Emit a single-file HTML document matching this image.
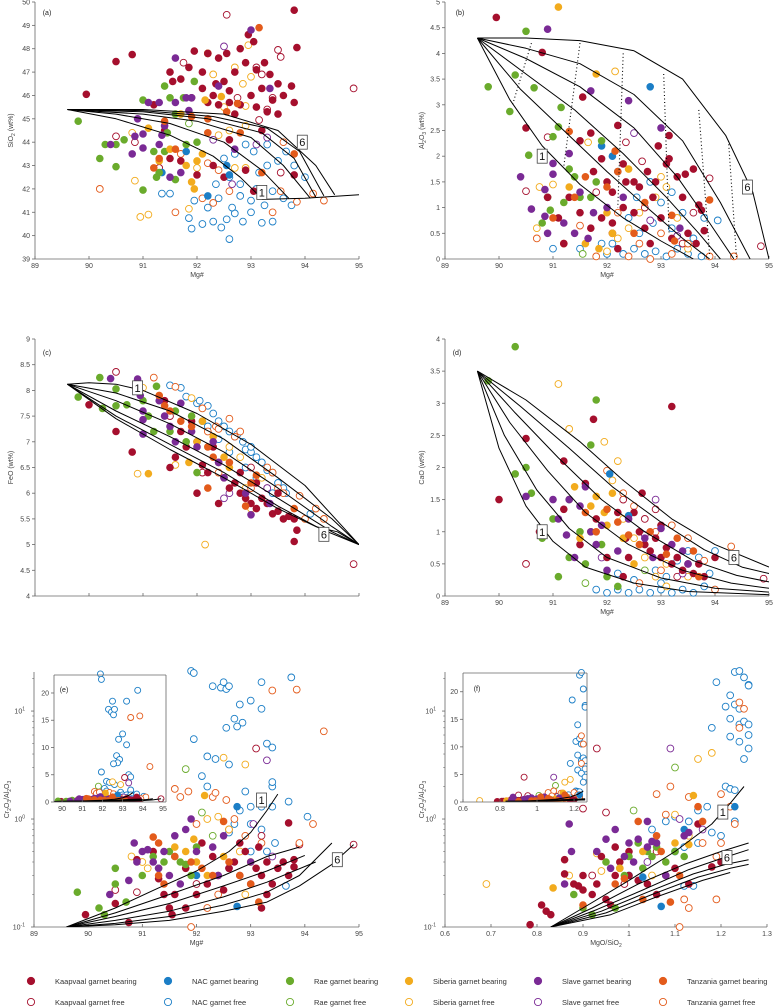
<!DOCTYPE html>
<html><head><meta charset="utf-8"><style>
body{margin:0;background:#fff;}
svg{display:block;font-family:"Liberation Sans",sans-serif;}
</style></head><body>
<svg id="chart" width="774" height="1007" viewBox="0 0 774 1007" xmlns="http://www.w3.org/2000/svg"></svg>
<script>
const groupNames = ["Kaapvaal","NAC","Rae","Siberia","Slave","Tanzania"];
const groupColors = ["#a50f2d","#1b7ec6","#6aab2c","#f2ab1d","#7a2a95","#e35b1b"];
// series order: KaapB,KaapF,NACB,NACF,RaeB,RaeF,SibB,SibF,SlaveB,SlaveF,TanzB,TanzF
const aPoints = [
[[89.95,46.05],[90.5,47.45],[90.8,47.75],[91.5,47],[91.55,46.6],[91.7,46.7],[91.85,47.2],[91.95,47.9],[92.1,47],[92.2,47.8],[92.3,46],[92.35,46.5],[92.4,47.6],[92.5,46.6],[92.55,47.8],[92.6,46.2],[92.7,47],[92.8,48],[92.9,47.4],[92.95,48.6],[93.05,48.3],[93.1,47.1],[93.2,46.3],[93.25,47.4],[93.35,46.9],[93.4,45.8],[93.5,46.5],[93.6,46],[93.75,46.4],[93.8,45.7],[93.8,49.65],[93.85,48.05],[92.2,45.7],[92.4,45.6],[92.6,45.7],[92.8,45.6],[93.0,46.0],[93.1,45.5],[93.3,45.3],[93.5,45.2],[92.1,46.3],[91.9,45.9],[91.2,45.6],[91.5,43.3],[91.4,44.5],[92.3,43.0],[92.6,44.1],[92.9,42.8],[93.05,41.9],[93.8,42.6],[93.2,44.5],[92.5,42.5],[91.7,43.2],[92.0,42.6],[92.7,45.2]],
[[92.55,49.45],[93.5,47.95],[93.55,47.65],[91.75,47.4],[92.2,47.8],[93.1,47.2],[93.2,46.9],[92.75,45.9],[93.4,45.9],[93.3,45.4],[93.15,44.95],[90.5,44.25],[90.85,44.0],[94.9,46.3],[93.55,42.7],[91.3,42.9]],
[[91.8,43.6],[92.2,41.7],[92.55,43.0],[91.35,42.7],[92.6,42.6]],
[[92.6,39.85],[91.9,40.3],[91.85,40.75],[92.1,40.5],[92.3,40.6],[92.45,40.35],[92.55,40.7],[92.7,40.95],[92.85,40.6],[93.0,41.0],[93.2,40.55],[93.4,40.6],[92.2,41.2],[92.4,41.6],[92.65,41.2],[92.8,41.7],[93.0,41.5],[93.1,42.0],[93.25,41.3],[93.4,41.9],[93.6,41.6],[93.75,41.3],[92.35,42.2],[92.6,42.5],[92.8,42.2],[93.15,42.7],[93.3,43.0],[93.5,43.2],[93.65,43.6],[93.3,43.9],[92.7,43.5],[92.9,43.9],[92.5,43.3],[91.35,41.8],[91.5,41.8],[91.95,41.5],[94.0,42.5],[93.8,43.0],[93.05,43.6]],
[[89.8,44.9],[90.2,43.3],[90.3,43.9],[90.5,43.9],[90.5,42.95],[90.65,44.1],[91.0,41.95],[91.0,45.8],[91.2,43.6],[91.25,42.5],[91.4,46.4],[91.5,45.9],[91.6,45.2],[91.3,42.7],[91.4,43.6],[91.6,42.4],[91.8,43.9],[91.75,45.9],[91.95,46.6],[92.0,44.0],[91.45,44.4]],
[[91.85,44.8]],
[[91.3,43.2],[91.5,43.7],[91.7,45.2],[91.8,43.0],[91.9,42.3],[91.95,42.0],[92.0,43.2],[92.15,45.8],[92.45,45.95],[92.1,43.5],[91.1,44.6]],
[[90.8,44.4],[90.95,40.8],[91.1,40.9],[90.85,42.35],[91.85,41.15],[92.2,47.8],[92.3,46.9],[92.5,45.5],[92.7,47.2],[92.85,46.5],[93.0,46.8],[92.95,48.15],[92.9,45.55],[92.4,44.3],[92.6,44.5],[92.7,42.9],[92.9,42.9],[92.0,42.9],[92.9,44.7]],
[[90.4,43.9],[90.8,43.5],[90.85,44.25],[90.9,45.0],[91.0,44.35],[91.0,43.75],[91.1,45.7],[91.3,45.7],[91.35,44.3],[91.4,44.7],[91.5,42.5],[91.6,47.6],[91.6,45.7],[91.7,42.7],[91.8,45.9],[91.9,45.9],[91.85,45.35],[92.4,46.4],[93.0,48.8],[93.35,46.3],[92.7,43.7],[91.3,43.9]],
[[92.5,48.1],[93.3,44.2],[93.1,43.9],[92.65,42.2],[92.3,44.1]],
[[91.2,42.9],[91.4,44.9],[91.3,43.3],[91.6,43.7],[92.2,44.4],[92.2,45.0],[92.55,45.3],[92.8,44.4],[93.15,48.9],[93.2,42.7],[93.8,43.5],[92.75,45.65],[91.9,45.1]],
[[90.2,42.0],[91.6,41.0],[92.3,41.4],[92.1,41.6],[92.6,41.9],[93.4,41.0],[93.55,41.9],[93.85,41.45],[94.15,41.8],[94.35,41.5],[92.2,43.1],[91.7,43.5],[92.4,42.8],[93.6,44.0]]
];
const bPoints = [
[[89.95,4.7],[90.8,4.02],[90.5,2.55],[91.55,3.15],[91.7,2.45],[92.2,2.6],[92.95,2.2],[93.15,2.4],[91.5,2.3],[91.75,1.7],[91.9,1.95],[92.0,1.5],[92.1,1.3],[92.3,1.85],[92.35,1.5],[92.5,1.5],[92.6,1.4],[92.75,1.7],[92.85,1.2],[92.9,1.5],[93.1,1.85],[93.15,1.95],[93.3,1.6],[93.45,1.65],[93.6,1.75],[93.7,1.05],[93.8,0.55],[93.75,0.95],[91.3,1.2],[91.5,0.9],[91.7,0.6],[91.9,0.8],[92.1,0.7],[92.3,1.0],[92.5,0.9],[92.7,0.6],[93.0,0.8],[93.2,0.4],[93.5,0.5],[93.65,0.3],[92.2,0.2],[91.2,0.3],[90.9,1.2],[91.1,0.8],[92.8,0.3],[93.4,1.2]],
[[90.5,1.32],[90.9,2.37],[92.35,2.27],[92.65,1.9],[93.9,1.57],[94.85,0.25],[91.8,1.3],[92.7,1.0],[93.6,0.9],[93.4,0.3],[92.1,0.5]],
[[92.8,3.35],[91.9,2.2],[92.1,2.0],[92.2,1.7]],
[[92.0,0.1],[92.3,0.1],[92.5,0.2],[92.7,0.1],[92.9,0.15],[93.1,0.05],[93.3,0.2],[93.5,0.1],[93.75,0.05],[92.6,0.5],[92.85,0.7],[93.0,1.1],[92.8,1.5],[93.2,1.3],[93.4,0.9],[94.05,0.75],[91.9,0.3],[92.4,0.8],[93.6,0.4],[91.0,0.2],[92.1,0.3],[93.8,0.8],[93.2,0.6],[92.55,1.2],[91.5,0.2]],
[[89.8,3.35],[90.2,2.87],[90.3,3.58],[90.5,4.43],[90.55,2.02],[90.65,3.33],[90.95,0.95],[91.0,2.38],[91.1,2.57],[91.15,2.95],[91.3,1.75],[91.4,1.6],[91.2,1.1],[91.8,1.5],[91.9,2.3],[91.7,1.2],[90.8,0.7],[91.5,1.2]],
[[90.9,1.2],[91.55,0.1]],
[[91.1,4.9],[91.8,3.6],[91.3,1.4],[92.4,1.75],[92.0,0.9],[92.1,0.5],[91.85,0.2],[91.6,0.3]],
[[92.15,3.65],[91.65,2.27],[90.75,1.4],[90.7,0.6],[93.0,1.6],[93.1,1.4],[92.9,1.2],[92.6,0.9],[92.2,0.4],[92.4,0.6],[92.0,0.15],[93.3,0.8],[91.0,1.45],[93.5,0.2]],
[[90.9,4.47],[91.7,3.27],[92.4,3.08],[93.0,2.55],[90.4,1.6],[90.6,0.97],[90.85,1.35],[90.85,0.83],[90.9,0.5],[91.0,1.65],[91.0,1.86],[91.3,2.05],[91.2,0.7],[91.5,1.3],[91.65,0.4],[91.75,0.9],[92.0,1.0],[92.3,1.2],[93.35,0.6],[91.4,0.5]],
[[92.5,2.45],[93.3,0.45],[92.8,0.75]],
[[91.3,2.48],[92.15,2.1],[92.2,1.7],[91.6,1.6],[91.4,1.2],[91.0,0.8],[92.5,0.5],[92.7,1.1],[93.2,0.85],[93.25,0.35],[93.9,1.15],[92.0,1.4]],
[[90.7,0.4],[91.2,0.3],[91.5,0.65],[92.4,0.05],[92.6,0.3],[93.0,0.5],[93.5,0.3],[93.9,0.05],[94.35,0.05],[92.8,0.0],[93.2,0.1],[92.2,0.9],[91.8,0.05]]
];
const cPoints = [
[[90.0,7.72],[90.5,7.2],[90.8,6.8],[91.5,6.5],[91.6,6.7],[91.8,6.9],[92.0,7.0],[92.1,6.55],[92.2,6.4],[92.4,6.6],[92.5,6.3],[92.6,6.1],[92.7,6.2],[92.8,6.0],[92.9,5.9],[93.0,5.8],[93.1,6.2],[93.2,5.9],[93.3,5.8],[93.4,5.6],[93.5,5.65],[93.6,5.5],[93.7,5.55],[93.8,5.5],[93.85,5.28],[93.8,5.06],[92.3,6.9],[91.7,7.2],[92.0,6.0],[92.8,6.4],[93.1,5.7],[91.4,7.8],[91.9,7.4],[93.5,6.0],[92.4,5.8]],
[[90.5,8.36],[92.1,6.4],[94.9,4.62],[93.3,6.1],[91.5,7.5],[93.0,6.5]],
[[92.1,7.4]],
[[91.5,8.1],[91.7,8.05],[91.8,7.88],[92.0,7.75],[92.05,7.8],[92.2,7.7],[92.3,7.55],[92.4,7.4],[92.5,7.3],[92.6,7.2],[92.7,7.1],[92.75,7.15],[92.85,7.0],[92.9,6.85],[93.0,6.8],[93.0,6.9],[93.1,6.7],[93.2,6.6],[93.3,6.45],[93.4,6.4],[93.5,6.2],[93.6,6.1],[93.65,6.0],[93.1,6.3],[92.6,6.8],[92.4,7.05],[92.9,6.5],[94.1,5.6],[93.4,6.0],[92.2,7.3]],
[[89.8,7.87],[90.2,8.25],[90.25,7.65],[90.5,7.7],[90.5,8.03],[90.7,7.72],[91.0,7.8],[91.1,7.5],[91.2,7.2],[91.25,8.08],[91.5,7.2],[91.6,7.6],[91.8,7.0],[91.9,7.5],[92.0,6.4]],
[],
[[91.1,6.38],[91.85,6.6],[92.1,7.4],[92.3,7.1],[92.5,6.7],[92.6,6.5],[91.3,7.9],[92.0,7.0]],
[[90.9,6.38],[92.15,5.0],[91.6,6.55],[91.9,7.85],[91.0,8.05],[92.6,6.9],[92.9,6.1],[93.0,5.7],[92.8,6.7],[93.2,6.3]],
[[90.4,8.23],[90.9,8.22],[90.95,7.9],[91.0,7.6],[91.0,7.15],[91.0,7.43],[91.3,7.8],[91.4,7.5],[91.5,7.3],[91.6,7.0],[91.7,7.75],[91.9,7.2],[92.0,6.9],[92.4,6.6],[92.5,6.3],[92.9,6.0],[93.0,5.58],[93.35,5.8],[92.3,7.0]],
[[92.5,5.9],[92.6,6.0],[93.3,6.1]],
[[91.3,7.9],[91.4,7.7],[91.5,7.6],[91.7,7.4],[91.9,7.3],[92.2,6.9],[92.3,6.7],[92.6,6.6],[93.1,6.35],[93.0,6.2],[93.8,5.7],[92.9,5.75],[92.2,6.1]],
[[91.2,8.25],[91.6,8.07],[92.1,7.65],[92.2,7.2],[92.35,7.3],[92.4,7.25],[92.6,7.45],[92.7,7.1],[92.8,7.2],[93.4,6.4],[93.5,6.1],[93.6,6.0],[93.9,5.95],[94.2,5.7],[94.35,5.5],[94.0,5.5],[93.0,6.1],[93.3,6.5],[92.4,6.4]]
];
const dPoints = [
[[90.0,1.5],[90.5,2.45],[90.75,1.0],[91.2,2.1],[91.6,1.75],[91.75,2.75],[93.2,2.95],[92.2,1.3],[92.35,0.9],[92.5,1.3],[92.6,1.0],[92.7,0.8],[92.8,0.7],[92.9,0.9],[93.0,0.6],[93.1,0.75],[93.2,0.5],[93.3,0.6],[93.4,0.4],[93.5,0.5],[93.6,0.35],[93.7,0.5],[93.8,0.3],[94.0,0.6],[92.0,0.6],[91.8,1.2],[92.3,0.3],[91.5,0.8],[93.0,1.1],[92.4,0.6],[91.2,1.35],[92.65,1.6]],
[[90.5,0.5],[92.7,1.2],[94.9,0.27],[93.3,0.3],[92.3,1.5],[92.9,1.35]],
[[92.05,1.9],[92.4,1.25]],
[[92.0,0.05],[92.2,0.1],[92.4,0.05],[92.6,0.1],[92.8,0.05],[93.0,0.1],[93.2,0.05],[93.4,0.1],[93.6,0.05],[93.8,0.15],[94.0,0.1],[93.1,0.3],[93.3,0.55],[93.5,0.7],[93.7,0.6],[94.0,0.7],[92.9,0.4],[92.5,0.25],[91.8,0.1],[93.9,0.35],[93.0,0.2],[92.2,0.35]],
[[89.8,3.35],[90.3,3.88],[90.3,1.9],[90.5,2.0],[90.6,1.6],[90.8,0.9],[91.0,1.2],[91.3,1.5],[91.5,1.0],[91.8,3.05],[91.7,2.35],[91.6,0.5],[92.0,0.3],[91.9,0.8],[91.3,0.6],[92.2,0.15],[91.1,0.3]],
[[92.7,0.4],[91.6,0.2]],
[[91.4,1.7],[91.7,1.4],[91.8,1.55],[91.95,1.3],[92.0,1.1],[92.1,1.6],[91.5,0.9],[92.3,0.9],[92.5,0.5]],
[[91.1,3.3],[91.3,2.6],[91.95,2.4],[92.1,1.8],[92.3,1.2],[92.5,0.9],[92.7,0.6],[92.9,0.3],[93.1,0.5],[93.5,0.3],[93.1,0.15],[91.7,1.0],[92.2,2.1]],
[[90.5,1.55],[91.0,1.5],[91.1,1.2],[91.25,0.95],[91.4,0.6],[91.5,1.4],[91.6,1.7],[91.7,1.0],[91.8,0.8],[91.9,1.1],[92.2,0.7],[92.4,1.2],[92.7,0.9],[92.85,0.6],[93.0,1.05],[93.2,0.8],[93.5,0.5],[92.0,0.4],[91.3,1.5],[93.4,0.7]],
[[92.7,0.95],[93.4,0.35],[91.9,0.6],[92.9,1.5]],
[[91.8,1.0],[92.0,1.35],[92.2,1.15],[92.4,0.95],[92.6,0.8],[92.8,1.0],[93.1,0.65],[93.3,0.9],[93.6,0.7],[93.7,0.3],[91.6,1.3]],
[[92.0,1.95],[92.3,1.6],[92.5,1.4],[92.9,1.0],[93.2,1.1],[93.5,0.9],[93.8,0.55],[94.3,0.77],[93.0,0.4],[92.6,0.2],[94.0,0.1]]
];
const ePoints = [
[[89.95,0.13],[90.5,0.165],[90.75,0.11],[91.5,0.15],[91.55,0.13],[91.8,0.15],[91.6,0.2],[92.0,0.2],[92.2,0.25],[92.4,0.3],[92.5,0.22],[92.6,0.35],[92.7,0.4],[92.8,0.3],[92.9,0.5],[93.0,0.25],[93.1,0.35],[93.15,0.55],[93.2,0.3],[93.3,0.4],[93.4,0.25],[93.5,0.35],[93.6,0.4],[93.7,0.3],[93.8,0.42],[93.8,0.36],[93.7,0.92],[93.2,0.15],[91.2,0.5],[92.3,0.45],[91.8,0.35],[92.8,0.6],[91.3,0.28],[91.4,0.2],[92.1,0.6],[93.3,0.2],[90.9,0.42]],
[[90.5,0.22],[90.9,0.21],[93.1,4.5],[93.9,0.58],[94.9,0.58],[92.6,0.8],[93.2,0.7],[92.0,0.25]],
[[92.75,1.3],[92.75,0.155],[92.0,0.3]],
[[91.9,23.5],[91.95,22.5],[92.3,17.0],[92.45,16.5],[92.5,18.5],[92.55,16.0],[92.6,17.0],[93.2,18.5],[93.75,20.5],[92.8,11.5],[93.0,12.5],[93.2,10.5],[92.7,8.5],[92.85,7.8],[92.75,7.2],[92.55,7.0],[91.95,5.5],[93.3,5.0],[93.4,4.6],[92.2,3.8],[92.35,3.6],[92.6,3.2],[92.1,2.5],[92.2,2.0],[92.9,1.8],[93.4,2.0],[93.4,2.2],[93.7,1.45],[94.05,1.05],[92.8,1.2],[93.0,1.3],[93.2,1.3],[93.4,1.3],[92.7,0.9],[93.0,0.9],[93.2,0.8],[93.45,0.6],[93.3,0.5],[92.6,0.75],[93.65,0.24],[93.0,0.5]],
[[89.8,0.21],[90.2,0.15],[90.3,0.13],[90.5,0.35],[90.5,0.25],[90.7,0.17],[91.0,0.3],[91.2,0.45],[91.4,0.4],[91.5,0.5],[91.6,0.45],[91.7,0.4],[91.8,0.38],[91.3,0.35],[92.0,0.55],[91.9,0.3]],
[[91.8,2.9],[92.1,1.15],[92.3,0.7]],
[[92.15,1.65],[91.95,0.65],[91.8,0.5],[92.0,0.4],[92.2,0.3],[91.6,0.55],[92.5,0.45]],
[[92.5,3.7],[92.9,3.2],[92.2,1.0],[92.4,1.05],[92.6,0.8],[90.8,0.45],[91.0,0.4],[92.8,0.5],[93.0,0.4],[92.9,0.2],[91.1,0.35]],
[[90.4,0.2],[90.75,0.27],[90.85,0.6],[90.9,0.4],[91.0,0.5],[91.1,0.52],[91.2,0.4],[91.3,0.35],[91.4,0.5],[91.5,0.3],[91.6,0.7],[91.8,0.8],[91.9,1.0],[92.0,0.5],[92.3,0.55],[92.5,0.7],[91.7,0.25],[93.0,0.4],[92.4,0.3]],
[[93.3,3.5],[93.05,0.9],[92.6,0.35],[93.4,0.45]],
[[91.2,0.68],[91.3,0.6],[91.4,0.25],[91.6,0.45],[91.9,0.4],[92.1,0.35],[92.3,0.3],[92.5,0.95],[92.6,0.4],[92.8,0.3],[93.0,0.25],[93.15,0.17],[91.3,0.3]],
[[91.6,1.9],[91.7,1.6],[91.85,1.8],[92.3,1.6],[92.35,1.75],[92.55,1.5],[92.7,1.0],[93.4,15.5],[93.85,15.8],[94.35,6.5],[94.15,0.9],[93.9,0.6],[92.2,0.15],[92.0,0.9],[92.9,0.7],[91.9,0.1],[93.2,0.6],[92.4,0.2]]
];
const fPoints = [
[[0.785,0.105],[0.81,0.16],[0.82,0.14],[0.83,0.13],[0.86,0.42],[0.86,0.31],[0.88,0.25],[0.89,0.24],[0.9,0.3],[0.9,0.22],[0.92,0.2],[0.93,0.25],[0.95,0.18],[0.97,0.3],[0.97,0.55],[0.98,0.4],[1.0,0.3],[1.02,0.27],[1.04,0.25],[1.06,0.2],[1.08,0.3],[1.1,0.35],[1.15,0.9],[1.2,0.4],[1.18,0.36],[1.13,0.25],[0.94,0.45],[0.96,0.16],[1.0,0.5]],
[[0.93,4.5],[0.9,1.25],[0.95,1.15],[0.92,0.3],[0.99,0.25],[1.06,0.5]],
[[1.23,1.3],[1.07,0.155],[1.12,0.8],[1.03,0.29]],
[[1.23,23],[1.24,23.5],[1.25,20.5],[1.26,17.5],[1.26,17.2],[1.19,18.5],[1.21,11],[1.23,11.5],[1.22,14],[1.24,10.5],[1.22,8.5],[1.24,7.5],[1.25,8],[1.26,7.5],[1.26,6],[1.22,5.8],[1.24,5.2],[1.26,4.5],[1.25,3.6],[1.18,7],[1.21,2.0],[1.22,1.9],[1.23,1.85],[1.17,1.3],[1.15,1.2],[1.2,0.7],[1.23,0.95],[1.18,0.75],[1.1,1.05],[1.08,0.95],[1.05,0.8],[1.13,0.95],[1.15,0.6],[1.12,0.55],[1.1,0.5],[1.12,0.24],[1.14,0.24],[1.0,0.3]],
[[0.88,0.2],[0.9,0.15],[0.92,0.13],[0.95,0.4],[0.97,0.15],[0.98,0.35],[1.0,0.45],[1.02,0.6],[1.04,0.5],[1.05,0.45],[1.06,0.55],[1.08,0.4],[1.1,0.5],[1.12,0.45],[0.99,0.3],[1.03,0.35]],
[[1.1,3.0],[1.01,1.2]],
[[0.835,0.23],[1.14,1.65],[1.1,0.6],[1.03,0.5],[0.98,0.35],[1.13,0.58]],
[[0.69,0.25],[1.15,3.6],[1.18,4.1],[1.1,1.1],[0.93,0.48],[0.94,0.33],[0.87,0.3],[1.05,0.3],[1.13,0.7]],
[[0.86,0.25],[0.87,0.9],[0.875,0.5],[0.93,0.5],[0.95,0.65],[0.96,0.35],[0.97,0.8],[0.99,0.45],[1.0,0.6],[1.02,0.65],[1.04,0.55],[1.05,0.62],[1.06,0.6],[1.04,0.95],[1.12,0.7],[1.13,0.75],[1.08,0.3],[1.01,0.4]],
[[1.09,4.5],[1.11,1.0],[1.16,0.8],[1.04,0.4]],
[[0.9,0.16],[0.97,0.25],[1.02,0.95],[1.06,0.7],[1.07,0.5],[1.09,0.17],[1.11,0.3],[1.15,1.3],[1.16,0.95],[1.03,0.18],[0.99,0.28]],
[[1.2,1.7],[1.22,1.3],[1.23,0.9],[1.2,0.6],[1.24,12],[1.25,10.5],[1.24,7],[1.11,0.1],[1.12,0.18],[1.13,0.15],[1.19,0.18],[1.09,2.0],[1.06,1.7],[1.13,1.6],[1.08,1.1],[1.16,0.6],[1.19,0.45]]
];
const aCurves = [
[[89.6,45.4],[90.5,45.0],[91.5,44.3],[92.3,43.4],[92.8,42.5],[93.2,41.6]],
[[89.6,45.4],[90.5,45.2],[91.5,44.8],[92.5,44.0],[93.2,42.8],[93.7,41.6]],
[[89.6,45.4],[91,45.2],[92,44.9],[93,44.2],[93.6,43.0],[94.1,41.6]],
[[89.6,45.4],[91,45.3],[92.2,45.0],[93.2,44.4],[93.8,43.3],[94.2,41.65]],
[[89.6,45.4],[91,45.35],[92.3,45.1],[93.3,44.6],[93.9,43.6],[94.35,41.7]],
[[89.6,45.4],[91,45.4],[92.5,45.2],[93.5,44.5],[94.2,43.0],[94.55,41.75]],
[[93.2,41.55],[94,41.6],[95,41.75]]
];
const bCurves = [
[[89.6,4.3],[90.2,3.1],[90.8,2.2],[91.5,1.45],[92.3,0.8],[93,0.35],[93.6,0]],
[[89.6,4.3],[90.4,3.3],[91.2,2.5],[92,1.7],[92.8,0.95],[93.4,0.4],[93.9,0]],
[[89.6,4.3],[90.5,3.6],[91.4,2.9],[92.3,2.05],[93.1,1.2],[93.7,0.5],[94.1,0]],
[[89.6,4.3],[90.5,3.9],[91.5,3.35],[92.5,2.55],[93.3,1.6],[93.9,0.7],[94.35,0]],
[[89.6,4.3],[90.5,4.1],[91.5,3.8],[92.5,3.2],[93.4,2.3],[94.1,1.1],[94.65,0]],
[[89.6,4.3],[90.5,4.3],[91.5,4.25],[92.5,4.05],[93.4,3.5],[94.2,2.4],[94.7,1.3],[95,0]]
];
const bDots = [[[90.6,4.2],[90.25,3.0]],[[91.5,4.2],[91.2,1.8]],[[92.3,4.0],[92.2,1.0]],[[93.05,3.6],[93.15,0.5]],[[93.7,2.9],[93.9,0.1]],[[94.25,2.3],[94.4,0]]];
const cCurves = [
[[89.6,8.12],[90,8.15],[90.5,8.12],[91,8.0],[92,7.55],[93,6.95],[94,6.15],[95,5.0]],
[[89.6,8.12],[90.5,7.95],[91.5,7.6],[92.5,7.05],[93.5,6.3],[94.5,5.5],[95,5.0]],
[[89.6,8.12],[90.5,7.8],[91.5,7.35],[92.5,6.8],[93.5,6.1],[94.5,5.35],[95,5.0]],
[[89.6,8.12],[90.5,7.6],[91.5,7.1],[92.5,6.55],[93.5,5.9],[94.5,5.25],[95,5.0]],
[[89.6,8.12],[90.5,7.5],[91.5,6.95],[92.5,6.4],[93.5,5.75],[94.3,5.3],[95,5.0]],
[[89.6,8.12],[90.5,7.45],[91.5,6.85],[92.5,6.3],[93.5,5.7],[94.2,5.35],[94.6,5.25],[95,5.0]]
];
const dCurves = [
[[89.6,3.5],[90.0,2.3],[90.5,1.4],[91,0.85],[91.6,0.45],[92.5,0.2],[93.5,0.07],[95,0.02]],
[[89.6,3.5],[90.1,2.5],[90.7,1.65],[91.3,1.05],[92,0.6],[93,0.28],[94,0.12],[95,0.06]],
[[89.6,3.5],[90.2,2.7],[90.9,1.95],[91.6,1.3],[92.4,0.8],[93.4,0.4],[94.3,0.2],[95,0.12]],
[[89.6,3.5],[90.3,2.85],[91.1,2.15],[91.9,1.5],[92.7,1.0],[93.6,0.55],[94.4,0.32],[95,0.22]],
[[89.6,3.5],[90.4,2.95],[91.3,2.3],[92.1,1.7],[93,1.15],[93.8,0.72],[94.5,0.45],[95,0.35]],
[[89.6,3.5],[90.5,3.05],[91.5,2.4],[92.3,1.8],[93.2,1.2],[94,0.8],[95,0.45]]
];
const eCurves = [
[[89.6,0.1],[90.5,0.15],[91.3,0.23],[92,0.33],[92.6,0.5],[93,0.75],[93.3,1.2],[93.5,1.7]],
[[89.6,0.1],[90.5,0.135],[91.5,0.2],[92.5,0.3],[93.3,0.45],[93.9,0.55]],
[[89.6,0.1],[90.5,0.125],[91.5,0.165],[92.5,0.24],[93.3,0.33],[94.0,0.46]],
[[89.6,0.1],[90.5,0.115],[91.5,0.14],[92.5,0.19],[93.3,0.26],[94.2,0.4]],
[[89.6,0.1],[90.5,0.108],[91.5,0.125],[92.5,0.16],[93.3,0.21],[93.9,0.3],[94.5,0.6]],
[[89.6,0.1],[90.5,0.105],[91.5,0.115],[92.5,0.14],[93.3,0.17],[93.9,0.24],[94.5,0.38],[94.9,0.58]]
];
const fCurves = [
[[0.83,0.1],[0.9,0.15],[1.0,0.27],[1.1,0.5],[1.18,0.9],[1.22,1.4],[1.25,2.0]],
[[0.83,0.1],[0.92,0.15],[1.02,0.25],[1.12,0.38],[1.2,0.5],[1.26,0.6]],
[[0.83,0.1],[0.93,0.145],[1.03,0.22],[1.13,0.34],[1.2,0.43],[1.26,0.52]],
[[0.83,0.1],[0.94,0.14],[1.04,0.21],[1.14,0.31],[1.21,0.38],[1.26,0.42]],
[[0.83,0.1],[0.95,0.135],[1.05,0.2],[1.15,0.29],[1.22,0.35],[1.26,0.38]],
[[0.83,0.1],[0.96,0.13],[1.06,0.19],[1.16,0.27],[1.22,0.32]]
];
const mgTicks = [89,90,91,92,93,94,95];
const aYTicks = [39,40,41,42,43,44,45,46,47,48,49,50];
const bYTicks = [0,0.5,1,1.5,2,2.5,3,3.5,4,4.5,5];
const cYTicks = [4,4.5,5,5.5,6,6.5,7,7.5,8,8.5,9];
const dYTicks = [0,0.5,1,1.5,2,2.5,3,3.5,4];
const fXTicks = [0.6,0.7,0.8,0.9,1,1.1,1.2,1.3];
const logTicks = [0.1,1,10];
const insetYTicks = [0,5,10,15,20];
const insetEXTicks = [90,91,92,93,94,95];
const insetFXTicks = [0.6,0.8,1,1.2];

const NS="http://www.w3.org/2000/svg";
const svg=document.getElementById('chart');
function mk(tag,attrs,parent){const e=document.createElementNS(NS,tag);for(const k in attrs)e.setAttribute(k,attrs[k]);(parent||svg).appendChild(e);return e;}
function txt(s,x,y,size,anchor,parent,fill){const t=mk('text',{x:x,y:y,'font-size':size,'text-anchor':anchor||'middle',fill:fill||'#444'},parent);t.textContent=s;return t;}

function makeAxes(p){
  const sx=v=>p.px[0]+(v-p.xd[0])/(p.xd[1]-p.xd[0])*(p.px[1]-p.px[0]);
  const sy=p.log?(v=>p.py[1]-(Math.log10(v)-Math.log10(p.yd[0]))/(Math.log10(p.yd[1])-Math.log10(p.yd[0]))*(p.py[1]-p.py[0]))
               :(v=>p.py[1]-(v-p.yd[0])/(p.yd[1]-p.yd[0])*(p.py[1]-p.py[0]));
  return {sx,sy};
}
function drawFrame(p,ax,g){
  const c='#666';
  mk('line',{x1:p.px[0],y1:p.py[1],x2:p.px[1],y2:p.py[1],stroke:c,'stroke-width':0.8},g);
  mk('line',{x1:p.px[0],y1:p.py[0],x2:p.px[0],y2:p.py[1],stroke:c,'stroke-width':0.8},g);
  if(p.box){
    mk('line',{x1:p.px[0],y1:p.py[0],x2:p.px[1],y2:p.py[0],stroke:c,'stroke-width':0.8},g);
    mk('line',{x1:p.px[1],y1:p.py[0],x2:p.px[1],y2:p.py[1],stroke:c,'stroke-width':0.8},g);
  }
  p.xt.forEach(v=>{const x=ax.sx(v);
    mk('line',{x1:x,y1:p.py[1],x2:x,y2:p.py[1]-3,stroke:c,'stroke-width':0.8},g);
    if(p.xlab) txt(String(v),x,p.py[1]+9,p.fs||7,'middle',g);
  });
  p.yt.forEach(v=>{const y=ax.sy(v);
    mk('line',{x1:p.px[0]-3,y1:y,x2:p.px[0],y2:y,stroke:c,'stroke-width':0.8},g);
    if(p.log){
      const t=txt('10',p.px[0]-9,y+2.5,7,'end',g);
      const s=mk('tspan',{'font-size':5,dy:-3},t);s.textContent=String(Math.round(Math.log10(v)));
    } else txt(String(v),p.px[0]-5,y+2.5,p.fs||7,'end',g);
  });
  if(p.log){
    [0.2,0.3,0.4,0.5,0.6,0.7,0.8,0.9,2,3,4,5,6,7,8,9,20].forEach(v=>{if(v>p.yd[1])return;const y=ax.sy(v);
      mk('line',{x1:p.px[0]-1.8,y1:y,x2:p.px[0],y2:y,stroke:c,'stroke-width':0.6},g);});
  }
}
function drawCurves(curves,ax,g,clip,dash){
  curves.forEach(cv=>{
    const d=cv.map((pt,i)=>(i?'L':'M')+ax.sx(pt[0]).toFixed(1)+','+ax.sy(pt[1]).toFixed(1)).join('');
    const a={d:d,fill:'none',stroke:'#000','stroke-width':dash?1.1:1,'stroke-linejoin':'round'};
    if(dash){a['stroke-dasharray']='1,2.5';}
    if(clip)a['clip-path']=clip;
    const el=mk('path',a,g);
    
    
  });
}
function drawPoints(series,ax,g,r,clip){
  const order=[3,1,5,7,9,11,0,2,4,6,8,10];
  order.forEach(si=>{
    const grp=Math.floor(si/2), filled=si%2===0, col=groupColors[grp];
    series[si].forEach(pt=>{
      const a={cx:ax.sx(pt[0]).toFixed(1),cy:ax.sy(pt[1]).toFixed(1),r:r};
      if(filled){a.fill=col;} else {a.fill='#fff';a.stroke=col;a['stroke-width']=0.9;a.r=r-0.4;}
      if(clip)a['clip-path']=clip;
      const c=mk('circle',a,g);
      
      
    });
  });
}
function labelBox(s,x,y,g){
  mk('rect',{x:x-5,y:y-7,width:10,height:14,fill:'#fff',stroke:'#444','stroke-width':0.8},g);
  txt(s,x,y+4,11,'middle',g,'#111');
}
function ylabel(parts,x,y,g){
  const t=mk('text',{x:0,y:0,'font-size':7,'text-anchor':'middle',fill:'#444',transform:'translate('+x+','+y+') rotate(-90)'},g);
  parts.forEach(p=>{const s=mk('tspan',p[1]?{'font-size':5,dy:2}:{dy:p[2]||0},t);s.textContent=p[0];});
  return t;
}
let clipId=0;
function clipFor(p){const id='clp'+(clipId++);const cp=mk('clipPath',{id:id});mk('rect',{x:p.px[0],y:p.py[0],width:p.px[1]-p.px[0],height:p.py[1]-p.py[0]},cp);return 'url(#'+id+')';}

const panels=[
 {id:'a',px:[35,359],py:[2,259],xd:[89,95],yd:[39,50],xt:mgTicks,yt:aYTicks,xlab:true,pts:aPoints,curves:aCurves,lab:[47,15],
  boxes:[['1',93.2,41.85],['6',93.95,44.0]],yl:[['SiO',0],['2',1],[' (wt%)',0,-2]],ylx:13,xtitle:'Mg#'},
 {id:'b',px:[445,769],py:[2,259],xd:[89,95],yd:[0,5],xt:mgTicks,yt:bYTicks,xlab:true,pts:bPoints,curves:bCurves,dots:bDots,lab:[460,15],
  boxes:[['1',90.8,2.0],['6',94.6,1.4]],yl:[['Al',0],['2',1],['O',0,-2],['3',1],[' (wt%)',0,-2]],ylx:424,xtitle:'Mg#'},
 {id:'c',px:[35,359],py:[339,596],xd:[89,95],yd:[4,9],xt:mgTicks,yt:cYTicks,xlab:false,pts:cPoints,curves:cCurves,lab:[47,355],
  boxes:[['1',90.9,8.05],['6',94.35,5.2]],yl:[['FeO (wt%)',0]],ylx:13},
 {id:'d',px:[445,769],py:[339,596],xd:[89,95],yd:[0,4],xt:mgTicks,yt:dYTicks,xlab:true,pts:dPoints,curves:dCurves,lab:[457,355],
  boxes:[['1',90.8,1.0],['6',94.35,0.6]],yl:[['CaO (wt%)',0]],ylx:424,xtitle:'Mg#'},
 {id:'e',px:[34,359],py:[672,927],xd:[89,95],yd:[0.1,23],log:true,xt:mgTicks,yt:logTicks,xlab:true,pts:ePoints,curves:eCurves,
  boxes:[['1',93.2,1.5],['6',94.6,0.42]],yl:[['Cr',0],['2',1],['O',0,-2],['3',1],['/Al',0,-2],['2',1],['O',0,-2],['3',1]],ylx:9,xtitle:'Mg#'},
 {id:'f',px:[445,767],py:[672,927],xd:[0.6,1.3],yd:[0.1,23],log:true,xt:fXTicks,yt:logTicks,xlab:true,pts:fPoints,curves:fCurves,
  boxes:[['1',1.204,1.16],['6',1.213,0.44]],yl:[['Cr',0],['2',1],['O',0,-2],['3',1],['/Al',0,-2],['2',1],['O',0,-2],['3',1]],ylx:424,xtitle:'MgO/SiO'}
];
panels.forEach(p=>{
  const g=mk('g',{});
  
  
  const ax=makeAxes(p);
  const clip=clipFor(p);
  drawFrame(p,ax,g);
  drawPoints(p.pts,ax,g,3.8,null);
  drawCurves(p.curves,ax,g,clip,false);
  if(p.dots)drawCurves(p.dots,ax,g,clip,true);
  p.boxes.forEach(b=>labelBox(b[0],ax.sx(b[1]),ax.sy(b[2]),g));
  if(p.lab){txt('('+p.id+')',p.lab[0],p.lab[1],7,'middle',g,'#222');}
  const yl=ylabel(p.yl,p.ylx,(p.py[0]+p.py[1])/2,g);
  
  
  if(p.xtitle){
    const t=txt(p.xtitle,(p.px[0]+p.px[1])/2,p.py[1]+18,7,'middle',g);
    if(p.id==='f'){const s=mk('tspan',{'font-size':5,dy:2},t);s.textContent='2';}
    
    
  }
});
const insets=[
 {id:'e',px:[54,166],py:[675,802],xd:[89.6,95.15],yd:[0,23.3],xt:insetEXTicks,yt:insetYTicks,xlab:true,box:true,pts:ePoints,curves:eCurves,lab:[64,692]},
 {id:'f',px:[463,587],py:[673,802],xd:[0.6,1.27],yd:[0,23.4],xt:insetFXTicks,yt:insetYTicks,xlab:true,box:true,pts:fPoints,curves:fCurves,lab:[477,691]}
];
insets.forEach(p=>{
  const g=mk('g',{});
  
  
  mk('rect',{x:p.px[0],y:p.py[0],width:p.px[1]-p.px[0],height:p.py[1]-p.py[0],fill:'#fff'},g);
  const ax=makeAxes(p);
  const clip=clipFor({px:[p.px[0],p.px[1]],py:[p.py[0]-8,p.py[1]]});
  drawPoints(p.pts,ax,g,3.4,clip);
  drawCurves(p.curves,ax,g,clip,false);
  drawFrame(p,ax,g);
  txt('('+p.id+')',p.lab[0],p.lab[1],7,'middle',g,'#222');
});
const legX=[31,168,290,409,538,663];
const legY=[981,1002];
groupNames.forEach((n,i)=>{
  [0,1].forEach(row=>{
    const g=mk('g',{});
    
    
    const a={cx:legX[i],cy:legY[row],r:row?3.6:4.1};
    if(row){a.fill='#fff';a.stroke=groupColors[i];a['stroke-width']=0.9;} else a.fill=groupColors[i];
    mk('circle',a,g);
    txt(n+(row?' garnet free':' garnet bearing'),legX[i]+24,legY[row]+3,7.5,'start',g,'#333');
  });
});
</script>
</body></html>
